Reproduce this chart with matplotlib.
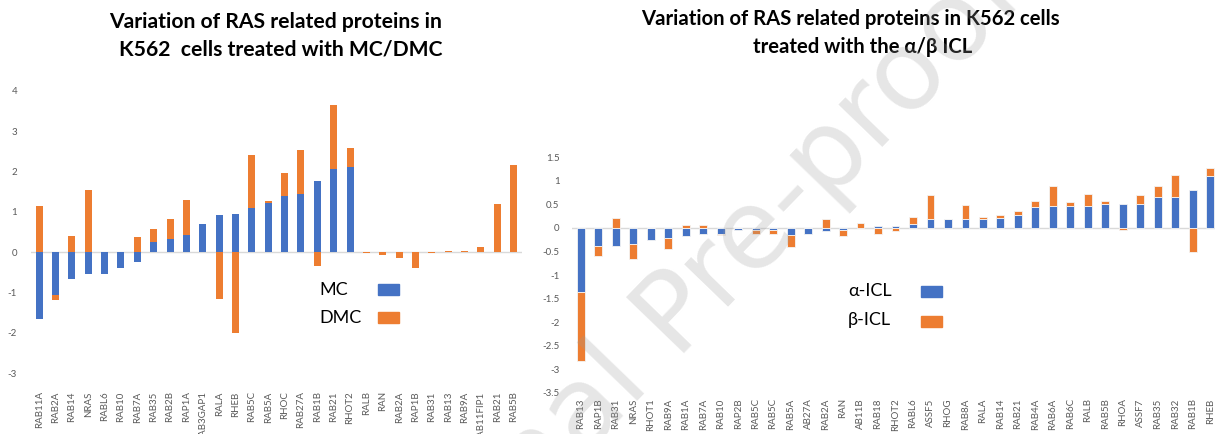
import numpy as np
import matplotlib
matplotlib.use("Agg")
import matplotlib.pyplot as plt
from matplotlib.patches import Rectangle

plt.rcParams['font.family'] = ['Lato', 'DejaVu Sans']

# MC / DMC panel
mc_labels = ['RAB11A', 'RAB2A', 'RAB14', 'NRAS', 'RABL6', 'RAB10', 'RAB7A', 'RAB35',
             'RAB2B', 'RAP1A', 'RAB3GAP1', 'RALA', 'RHEB', 'RAB5C', 'RAB5A', 'RHOC',
             'RAB27A', 'RAB1B', 'RAB21', 'RHOT2', 'RALB', 'RAN', 'RAB2A', 'RAP1B',
             'RAB31', 'RAB13', 'RAB9A', 'RAB11FIP1', 'RAB21', 'RAB5B']
mc_vals = [-1.66, -1.07, -0.66, -0.54, -0.54, -0.39, -0.25, 0.24, 0.32, 0.43,
           0.69, 0.93, 0.95, 1.09, 1.23, 1.38, 1.43, 1.77, 2.06, 2.12,
           0, 0, 0, 0, 0, 0, 0, 0, 0, 0]
dmc_vals = [1.14, -0.12, 0.40, 1.55, 0, 0, 0.37, 0.33, 0.51, 0.86,
            0, -1.17, -2.01, 1.32, 0.03, 0.58, 1.10, -0.35, 1.58, 0.46,
            -0.03, -0.08, -0.14, -0.39, -0.01, 0.03, 0.03, 0.14, 1.19, 2.17]
mc_yticks = [-3, -2, -1, 0, 1, 2, 3, 4]

# alpha / beta ICL panel
icl_labels = ['RAB13', 'RAP1B', 'RAB31', 'NRAS', 'RHOT1', 'RAB9A', 'RAB1A', 'RAB7A',
              'RAB10', 'RAP2B', 'RAB5C', 'RAB5C', 'RAB5A', 'AB27A', 'RAB2A', 'RAN',
              'AB11B', 'RAB18', 'RHOT2', 'RABL6', 'ASSF5', 'RHOG', 'RAB8A', 'RALA',
              'RAB14', 'RAB21', 'RAB4A', 'RAB6A', 'RAB6C', 'RALB', 'RAB5B', 'RHOA',
              'ASSF7', 'RAB35', 'RAB32', 'RAB1B', 'RHEB']
alpha_vals = [-1.36, -0.39, -0.38, -0.35, -0.25, -0.22, -0.17, -0.13, -0.13, -0.05,
              -0.04, -0.04, -0.16, -0.13, -0.07, -0.04, 0, 0.04, 0.05, 0.09,
              0.18, 0.18, 0.20, 0.20, 0.22, 0.28, 0.45, 0.46, 0.46, 0.46,
              0.50, 0.50, 0.50, 0.66, 0.66, 0.80, 1.11]
beta_vals = [-1.46, -0.20, 0.21, -0.30, 0, -0.22, 0.07, 0.07, -0.02, 0,
             -0.09, -0.09, -0.24, 0, 0.18, -0.14, 0.11, -0.12, -0.07, 0.15,
             0.52, 0.02, 0.28, 0.04, 0.06, 0.07, 0.12, 0.42, 0.08, 0.25,
             0.08, -0.05, 0.19, 0.22, 0.47, -0.51, 0.16]
icl_yticks = [-3.5, -3, -2.5, -2, -1.5, -1, -0.5, 0, 0.5, 1, 1.5]

BLUE = '#4472C4'
ORANGE = '#ED7D31'
GREY = '#595959'


def stacked_bars(ax, labels, first, second, width, edge=None):
    # excel-style stacking: positives pile on positives, negatives on negatives
    x = np.arange(len(labels))
    first = np.asarray(first)
    second = np.asarray(second)
    bottom = np.where(np.sign(first) == np.sign(second), first, 0)
    kw = dict(edgecolor=edge, linewidth=0.6) if edge else dict(linewidth=0)
    ax.bar(x, first, width, color=BLUE, zorder=2, **kw)
    ax.bar(x, second, width, bottom=bottom, color=ORANGE, zorder=2, **kw)
    ax.axhline(0, color='#d9d9d9', lw=1, zorder=1)
    ax.set_xlim(-0.5, len(labels) - 0.5)
    ax.set_xticks(x)
    ax.set_xticklabels(labels, rotation=90, fontsize=7, color=GREY)
    for s in ax.spines.values():
        s.set_visible(False)
    ax.tick_params(length=0)


fig = plt.figure(figsize=(12.15, 4.34), dpi=100)

ax1 = fig.add_axes([0.0255, 0.140, 0.404, 0.651])
stacked_bars(ax1, mc_labels, mc_vals, dmc_vals, 0.43)
ax1.set_ylim(-3, 4)
ax1.set_yticks(mc_yticks)
ax1.set_yticklabels([f'{t:g}' for t in mc_yticks], fontsize=7, color=GREY)
ax1.tick_params(axis='y', pad=10)
ax1.tick_params(axis='x', pad=13)

ax2 = fig.add_axes([0.4708, 0.095, 0.5325, 0.5426])
stacked_bars(ax2, icl_labels, alpha_vals, beta_vals, 0.45, edge='#f4f4f4')
ax2.set_ylim(-3.5, 1.5)
ax2.set_yticks(icl_yticks)
ax2.set_yticklabels([f'{t:g}' for t in icl_yticks], fontsize=7, color=GREY)
ax2.tick_params(axis='y', pad=9)
ax2.tick_params(axis='x', pad=4)

# titles
W, H = 1215, 434
fig.text(276 / W, 1 - 22 / H, 'Variation of RAS related proteins in',
         ha='center', va='center', fontsize=15.2, fontweight='bold')
fig.text(281 / W, 1 - 50 / H, 'K562  cells treated with MC/DMC',
         ha='center', va='center', fontsize=15.2, fontweight='bold')
fig.text(850 / W, 1 - 19 / H, 'Variation of RAS related proteins in K562 cells',
         ha='center', va='center', fontsize=14.6, fontweight='bold')
fig.text(863 / W, 1 - 47 / H, 'treated with the α/β ICL',
         ha='center', va='center', fontsize=14.6, fontweight='bold')

# legends drawn as text + swatches
legend_items = [
    (319, 290, 'MC', 378, 284, BLUE),
    (319, 318, 'DMC', 378, 312, ORANGE),
    (848, 291, 'α-ICL', 921, 286, BLUE),
    (848, 320, 'β-ICL', 921, 316, ORANGE),
]
for tx, ty, label, px, py, col in legend_items:
    fig.text(tx / W, 1 - ty / H, label, ha='left', va='center', fontsize=13)
    fig.add_artist(Rectangle((px / W, 1 - (py + 11) / H), 21 / W, 11 / H,
                             transform=fig.transFigure, color=col))

# journal watermark
fig.text(0.565, 0.28, 'Journal Pre-proof', rotation=46, ha='center', va='center',
         fontsize=80, color='#9a9a9a', alpha=0.25, family='DejaVu Sans', zorder=10)

fig.savefig('out.png', dpi=100)
